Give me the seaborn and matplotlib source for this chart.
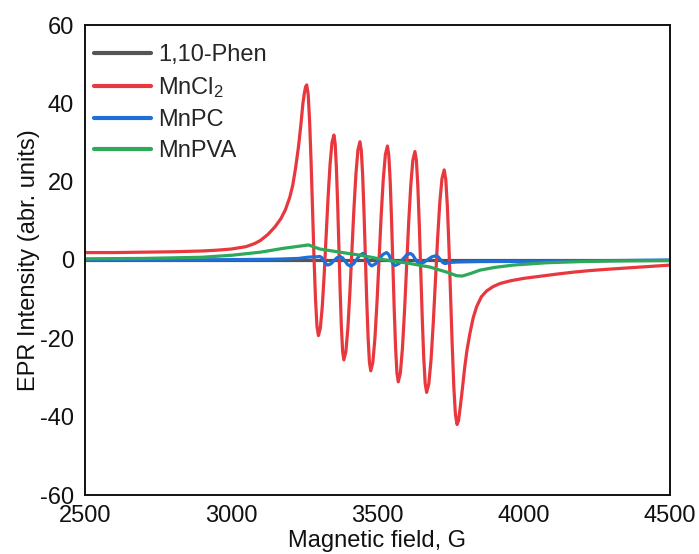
import numpy as np
import pandas as pd
import matplotlib
matplotlib.use("Agg")
import matplotlib.pyplot as plt
import seaborn as sns

# ---------------- data ----------------
series_names = ["1,10-Phen", "MnCl$_2$", "MnPC", "MnPVA"]

phen_field = [2500, 3000, 3500, 4000, 4500]
phen_int = [0.0, 0.0, 0.0, 0.0, 0.0]

mncl2_field = [2500, 2600, 2700, 2800, 2900, 2950, 3000, 3050, 3080, 3100, 3125, 3150, 3170, 3185, 3200,
               3210, 3220, 3230, 3238, 3245, 3250, 3254,
               3258, 3263, 3268, 3273, 3278, 3283, 3288, 3293,
               3298, 3304.6, 3311.3, 3317.9, 3324.5, 3331.1, 3337.8, 3344.4,
               3351, 3355.3, 3359.5, 3363.8, 3368, 3372.3, 3376.5, 3380.8,
               3385, 3391.9, 3398.8, 3405.6, 3412.5, 3419.4, 3426.3, 3433.1,
               3440, 3444.6, 3449.3, 3453.9, 3458.5, 3463.1, 3467.8, 3472.4,
               3477, 3484.1, 3491.3, 3498.4, 3505.5, 3512.6, 3519.8, 3526.9,
               3534, 3538.6, 3543.3, 3547.9, 3552.5, 3557.1, 3561.8, 3566.4,
               3571, 3578.1, 3585.3, 3592.4, 3599.5, 3606.6, 3613.8, 3620.9,
               3628, 3633, 3638, 3643, 3648, 3653, 3658, 3663,
               3668, 3675.5, 3683, 3690.5, 3698, 3705.5, 3713, 3720.5,
               3728, 3733.5, 3739, 3744.5, 3750, 3755.5, 3761, 3766.5,
               3772, 3777, 3783, 3790, 3798, 3806, 3816, 3827, 3839, 3855, 3873, 3895, 3919,
               3955, 3999, 4050, 4113, 4170, 4226, 4280, 4340, 4420, 4500]
mncl2_int = [1.9, 1.9, 2.0, 2.1, 2.3, 2.5, 2.8, 3.4, 4.2, 5.0, 6.5, 8.5, 10.6, 12.8, 16.0,
             19.0, 23.5, 29.0, 34.5, 40.0, 42.6, 44.2,
             44.7, 42.3, 35.3, 24.9, 12.7, 0.5, -9.9, -16.9,
             -19.3, -17.4, -11.8, -3.5, 6.3, 16.1, 24.4, 30.0,
             31.9, 29.7, 23.5, 14.2, 3.2, -7.8, -17.1, -23.3,
             -25.5, -23.4, -17.3, -8.3, 2.4, 13.0, 22.0, 28.1,
             30.2, 28.0, 21.6, 12.1, 1.0, -10.2, -19.7, -26.1,
             -28.3, -26.1, -19.9, -10.6, 0.4, 11.4, 20.7, 26.9,
             29.1, 26.8, 20.3, 10.5, -1.0, -12.5, -22.3, -28.8,
             -31.1, -28.9, -22.5, -13.0, -1.7, 9.6, 19.1, 25.5,
             27.7, 25.4, 18.7, 8.7, -3.1, -14.8, -24.8, -31.5,
             -33.8, -31.6, -25.5, -16.3, -5.4, 5.5, 14.7, 20.8,
             23.0, 20.5, 13.5, 2.9, -9.5, -21.9, -32.5, -39.5,
             -42.0, -41.0, -37.5, -33.0, -27.5, -23.0, -18.7, -14.8, -11.9, -9.4, -7.9, -6.8, -6.0,
             -5.3, -4.7, -4.2, -3.6, -3.1, -2.7, -2.4, -2.1, -1.7, -1.3]

mnpc_field = [2500, 2800, 3000, 3150, 3230, 3260, 3280, 3290,
              3303, 3309.8, 3316.5, 3323.3,
              3330, 3340.5, 3351, 3361.5,
              3372, 3380.5, 3389, 3397.5,
              3406, 3417.3, 3428.5, 3439.8,
              3451, 3458.3, 3465.5, 3472.8,
              3480, 3492.8, 3505.5, 3518.3,
              3531, 3538.3, 3545.5, 3552.8,
              3560, 3573, 3586, 3599,
              3612, 3620, 3628, 3636,
              3644, 3658, 3672, 3686,
              3700, 3707.5, 3715, 3722.5,
              3730, 3750, 3780, 3850, 4000, 4100, 4300, 4500]
mnpc_int = [0.0, 0.0, 0.1, 0.2, 0.4, 0.7, 0.8, 0.8,
            0.9, 0.58, -0.2, -0.98,
            -1.3, -0.98, -0.2, 0.58,
            0.9, 0.55, -0.3, -1.15,
            -1.5, -1.03, 0.1, 1.23,
            1.7, 1.23, 0.1, -1.03,
            -1.5, -1.0, 0.2, 1.4,
            1.9, 1.42, 0.25, -0.92,
            -1.4, -0.95, 0.15, 1.25,
            1.7, 1.32, 0.4, -0.52,
            -0.9, -0.61, 0.1, 0.81,
            1.1, 0.81, 0.1, -0.61,
            -0.9, -0.6, -0.5, -0.4, -0.35, -0.3, -0.15, 0.0]

mnpva_field = [2500, 2700, 2900, 3000, 3100, 3180, 3240, 3264, 3303, 3372, 3451, 3520, 3611, 3679,
               3737, 3770, 3790, 3820, 3850, 3900, 3964, 4078, 4200, 4306, 4500]
mnpva_int = [0.3, 0.4, 0.7, 1.2, 2.0, 3.0, 3.6, 3.85, 2.8, 2.0, 1.1, 0.1, -0.9, -1.8,
             -3.1, -4.0, -4.1, -3.4, -2.6, -1.9, -1.3, -0.7, -0.4, -0.25, -0.15]

x_ticks = [2500, 3000, 3500, 4000, 4500]
y_ticks = [-60, -40, -20, 0, 20, 40, 60]
colors = ["#555555", "#e8383d", "#1f6fd6", "#2ea85a"]

# ---------------- build long-form table ----------------
frames = []
for name, fx, fy in zip(series_names,
                        [phen_field, mncl2_field, mnpc_field, mnpva_field],
                        [phen_int, mncl2_int, mnpc_int, mnpva_int]):
    frames.append(pd.DataFrame({"field": fx, "intensity": fy, "sample": name}))
df = pd.concat(frames, ignore_index=True)

sns.set_theme(style="white")
plt.rcParams["font.family"] = ["Liberation Sans", "DejaVu Sans"]
plt.rcParams["mathtext.default"] = "regular"
plt.rcParams["axes.unicode_minus"] = False

fig = plt.figure(figsize=(6.99, 5.54), dpi=100)
ax = fig.add_axes([85 / 699, 59 / 554, 585 / 699, 470 / 554])

sns.lineplot(data=df, x="field", y="intensity", hue="sample", hue_order=series_names,
             palette=colors, estimator=None, sort=False, linewidth=2.3, ax=ax)
for ln in ax.get_lines():
    ln.set_solid_joinstyle("round")

ax.set_xlim(2500, 4500)
ax.set_ylim(-60, 60)
ax.set_xticks(x_ticks)
ax.set_yticks(y_ticks)
ax.set_xlabel("Magnetic field, G", fontsize=17, color="#111111", labelpad=2.5)
ax.set_ylabel("EPR Intensity (abr. units)", fontsize=17, color="#111111", labelpad=0)
ax.tick_params(axis="x", direction="in", length=7, width=1.0, labelsize=17, colors="#111111", pad=7)
ax.tick_params(axis="y", length=0, labelsize=17, colors="#111111", pad=8)
for s in ax.spines.values():
    s.set_visible(True)
    s.set_color("#111111")
    s.set_linewidth(1.4)

leg = ax.legend(loc="upper left", frameon=False, fontsize=17, handlelength=2.4,
                handletextpad=0.3, labelspacing=0.38, borderaxespad=0.0,
                bbox_to_anchor=(0.0, 0.979))
for line in leg.get_lines():
    line.set_linewidth(3.0)

fig.savefig("out.png", dpi=100)
